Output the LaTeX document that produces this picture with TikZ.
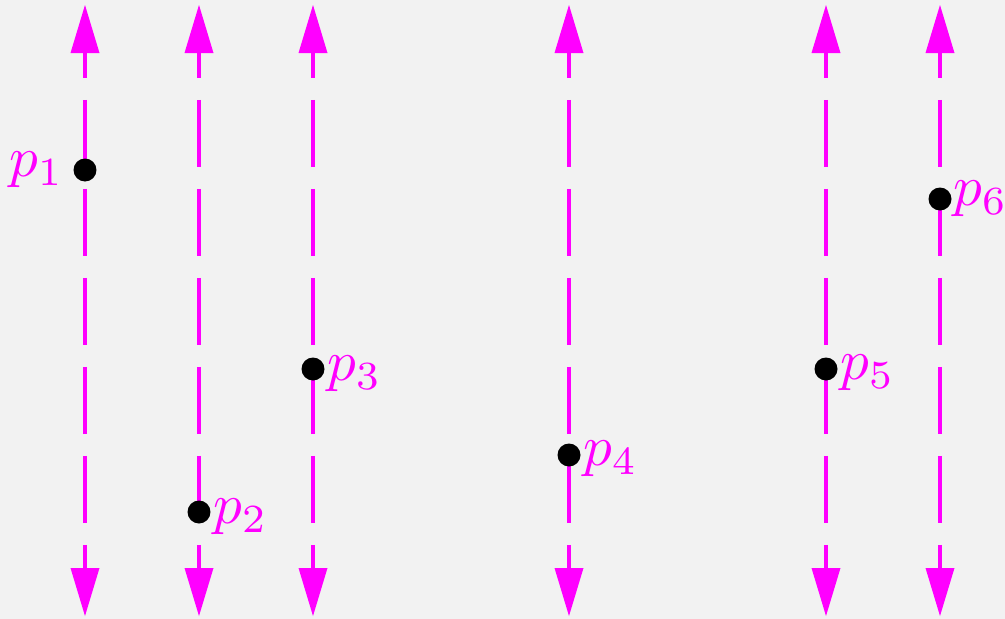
\documentclass[tikz,border=0pt]{standalone}
\usepackage{graphicx}
\definecolor{bg}{HTML}{F2F2F2}
\definecolor{mag}{HTML}{FF00FF}
\newcommand{\biglab}[1]{\scalebox{3.25}{$#1$}}
\begin{document}
\begin{tikzpicture}[x=0.02cm,y=-0.02cm,
  axisline/.style={mag, line width=2.55pt, dash pattern=on 1.34cm off 0.44cm},
  headtip/.style={fill=mag},
  dot/.style={circle, fill=black, inner sep=0pt, minimum size=0.46cm},
  lab/.style={text=mag, inner sep=0pt}]
\fill[bg] (0,0) rectangle (1005,619);
\useasboundingbox (0,0) rectangle (1005,619);
\foreach \x [count=\i] in {85,199,313,569,826,940}{
  \coordinate (top\i) at (\x,5);
  \coordinate (bot\i) at (\x,616);
  \draw[axisline] (\x,11) -- (\x,590);
  \fill[headtip] (top\i) -- ++(14.5,48) -- ++(-29,0) -- cycle;
  \fill[headtip] (bot\i) -- ++(14.5,-48) -- ++(-29,0) -- cycle;
}
\node[dot] (p1) at (85,170) {};
\node[dot] (p2) at (199,512) {};
\node[dot] (p3) at (313,369) {};
\node[dot] (p4) at (569,455) {};
\node[dot] (p5) at (826,369) {};
\node[dot] (p6) at (940,199) {};
\node[lab, anchor=east] (l1) at ([xshift=-0.42cm]p1.center) {\biglab{p_1}};
\node[lab, anchor=west] (l2) at ([xshift=0.28cm,yshift=-0.1cm]p2.center) {\biglab{p_2}};
\node[lab, anchor=west] (l3) at ([xshift=0.28cm,yshift=-0.1cm]p3.center) {\biglab{p_3}};
\node[lab, anchor=west] (l4) at ([xshift=0.28cm,yshift=-0.08cm]p4.center) {\biglab{p_4}};
\node[lab, anchor=west] (l5) at ([xshift=0.28cm,yshift=-0.08cm]p5.center) {\biglab{p_5}};
\node[lab, anchor=west] (l6) at ([xshift=0.26cm]p6.center) {\biglab{p_6}};
\end{tikzpicture}
\end{document}
